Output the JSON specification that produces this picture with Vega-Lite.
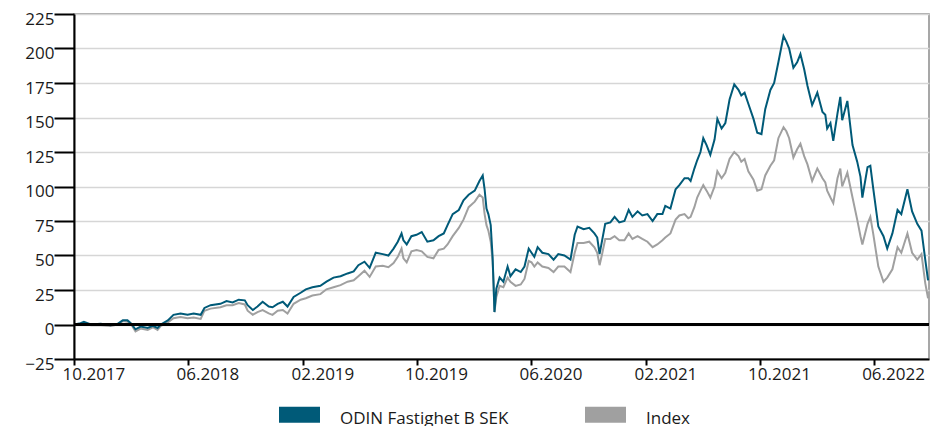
{
  "$schema": "https://vega.github.io/schema/vega-lite/v6.json",
  "width": 855,
  "height": 345,
  "autosize": "none",
  "padding": {"left": 74, "top": 14, "right": 1, "bottom": 67},
  "config": {
    "font": "Open Sans",
    "view": {"stroke": "#8a8a8a", "strokeWidth": 1.5},
    "axis": {"labelFont": "Open Sans", "labelFontSize": 17, "labelColor": "#1a1a1a"},
    "axisY": {
      "title": null,
      "grid": true, "gridColor": "#d6d6d6", "gridWidth": 1.5,
      "domainColor": "#000", "domainWidth": 2,
      "tickColor": "#000", "tickWidth": 2, "tickSize": 20,
      "labelPadding": 0, "labelOffset": 5, "labelOverlap": false, "labelFlush": false
    }
  },
  "data": {"values": [
    {"d":"2017-10-02","odin":0,"idx":0},
    {"d":"2017-10-15","odin":1,"idx":0.5},
    {"d":"2017-10-22","odin":2,"idx":1},
    {"d":"2017-11-06","odin":0,"idx":-0.5},
    {"d":"2017-11-27","odin":0.5,"idx":-0.5},
    {"d":"2017-12-18","odin":-0.5,"idx":-1},
    {"d":"2018-01-02","odin":0.5,"idx":0},
    {"d":"2018-01-13","odin":3,"idx":2.5},
    {"d":"2018-01-23","odin":3,"idx":2},
    {"d":"2018-01-30","odin":1,"idx":0.5},
    {"d":"2018-02-09","odin":-3.5,"idx":-5},
    {"d":"2018-02-20","odin":-1.5,"idx":-3},
    {"d":"2018-03-07","odin":-2.5,"idx":-4},
    {"d":"2018-03-18","odin":-1,"idx":-2},
    {"d":"2018-03-28","odin":-2.5,"idx":-4},
    {"d":"2018-04-04","odin":0,"idx":-1},
    {"d":"2018-04-19","odin":3,"idx":1.5},
    {"d":"2018-05-01","odin":7,"idx":4.5},
    {"d":"2018-05-16","odin":8,"idx":5.5},
    {"d":"2018-05-31","odin":7,"idx":4.5},
    {"d":"2018-06-13","odin":8,"idx":5},
    {"d":"2018-06-28","odin":7,"idx":4},
    {"d":"2018-07-06","odin":12,"idx":10},
    {"d":"2018-07-19","odin":14,"idx":11.5},
    {"d":"2018-08-09","odin":15,"idx":12.5},
    {"d":"2018-08-22","odin":17,"idx":14},
    {"d":"2018-09-04","odin":16,"idx":14},
    {"d":"2018-09-17","odin":18,"idx":15.5},
    {"d":"2018-09-30","odin":17.5,"idx":14.5},
    {"d":"2018-10-06","odin":14,"idx":10},
    {"d":"2018-10-17","odin":10.5,"idx":7},
    {"d":"2018-10-27","odin":13,"idx":9},
    {"d":"2018-11-07","odin":16.5,"idx":10.5},
    {"d":"2018-11-20","odin":13,"idx":8},
    {"d":"2018-11-28","odin":12.5,"idx":7},
    {"d":"2018-12-09","odin":15,"idx":10},
    {"d":"2018-12-20","odin":16.5,"idx":10.5},
    {"d":"2018-12-30","odin":13,"idx":8},
    {"d":"2019-01-12","odin":20,"idx":15},
    {"d":"2019-01-27","odin":23,"idx":18},
    {"d":"2019-02-07","odin":25.5,"idx":19},
    {"d":"2019-02-21","odin":27,"idx":21},
    {"d":"2019-03-10","odin":28,"idx":22},
    {"d":"2019-03-23","odin":31,"idx":25.5},
    {"d":"2019-04-07","odin":34,"idx":27},
    {"d":"2019-04-22","odin":35,"idx":28.5},
    {"d":"2019-05-07","odin":37,"idx":31},
    {"d":"2019-05-20","odin":38.5,"idx":32},
    {"d":"2019-05-30","odin":43,"idx":35},
    {"d":"2019-06-12","odin":45.5,"idx":39},
    {"d":"2019-06-23","odin":41,"idx":34.5},
    {"d":"2019-07-06","odin":52,"idx":42},
    {"d":"2019-07-21","odin":51,"idx":42.5},
    {"d":"2019-08-02","odin":50,"idx":41.5},
    {"d":"2019-08-13","odin":55,"idx":44.5},
    {"d":"2019-08-22","odin":60,"idx":49},
    {"d":"2019-08-30","odin":66,"idx":55},
    {"d":"2019-09-03","odin":61,"idx":48},
    {"d":"2019-09-10","odin":58,"idx":45},
    {"d":"2019-09-20","odin":64,"idx":53},
    {"d":"2019-10-01","odin":65,"idx":54},
    {"d":"2019-10-12","odin":67,"idx":53},
    {"d":"2019-10-24","odin":60,"idx":49},
    {"d":"2019-11-06","odin":61,"idx":48},
    {"d":"2019-11-17","odin":64,"idx":54},
    {"d":"2019-11-28","odin":66,"idx":55},
    {"d":"2019-12-06","odin":72,"idx":58},
    {"d":"2019-12-17","odin":80,"idx":64},
    {"d":"2019-12-30","odin":83,"idx":70},
    {"d":"2020-01-09","odin":90,"idx":76},
    {"d":"2020-01-20","odin":94,"idx":85},
    {"d":"2020-02-02","odin":97,"idx":89},
    {"d":"2020-02-12","odin":104,"idx":94},
    {"d":"2020-02-19","odin":108,"idx":92},
    {"d":"2020-02-23","odin":98,"idx":80},
    {"d":"2020-02-27","odin":84,"idx":72},
    {"d":"2020-03-02","odin":80,"idx":68},
    {"d":"2020-03-07","odin":72,"idx":60},
    {"d":"2020-03-11","odin":49,"idx":46},
    {"d":"2020-03-13","odin":30,"idx":30},
    {"d":"2020-03-15","odin":9,"idx":9},
    {"d":"2020-03-19","odin":26,"idx":20},
    {"d":"2020-03-26","odin":34,"idx":28},
    {"d":"2020-04-03","odin":31,"idx":27},
    {"d":"2020-04-12","odin":42,"idx":34},
    {"d":"2020-04-18","odin":35,"idx":31},
    {"d":"2020-04-29","odin":40,"idx":28},
    {"d":"2020-05-10","odin":38,"idx":29},
    {"d":"2020-05-18","odin":42,"idx":33},
    {"d":"2020-05-27","odin":55,"idx":46},
    {"d":"2020-06-02","odin":52,"idx":45},
    {"d":"2020-06-08","odin":49,"idx":42},
    {"d":"2020-06-15","odin":56,"idx":45},
    {"d":"2020-06-25","odin":52,"idx":42},
    {"d":"2020-07-08","odin":51,"idx":41},
    {"d":"2020-07-19","odin":47,"idx":38},
    {"d":"2020-07-29","odin":51,"idx":42},
    {"d":"2020-08-11","odin":50,"idx":42},
    {"d":"2020-08-24","odin":47,"idx":38},
    {"d":"2020-09-02","odin":65,"idx":52},
    {"d":"2020-09-08","odin":71,"idx":59},
    {"d":"2020-09-21","odin":69,"idx":59},
    {"d":"2020-10-03","odin":70,"idx":60},
    {"d":"2020-10-14","odin":66,"idx":56},
    {"d":"2020-10-20","odin":63,"idx":52},
    {"d":"2020-10-25","odin":51,"idx":43},
    {"d":"2020-10-31","odin":62,"idx":52},
    {"d":"2020-11-06","odin":73,"idx":62},
    {"d":"2020-11-17","odin":74,"idx":62},
    {"d":"2020-11-26","odin":78,"idx":64},
    {"d":"2020-12-06","odin":74,"idx":61},
    {"d":"2020-12-17","odin":75,"idx":61},
    {"d":"2020-12-26","odin":83,"idx":66},
    {"d":"2021-01-03","odin":78,"idx":62},
    {"d":"2021-01-14","odin":82,"idx":64},
    {"d":"2021-01-24","odin":79,"idx":62},
    {"d":"2021-02-04","odin":80,"idx":60},
    {"d":"2021-02-15","odin":75,"idx":56},
    {"d":"2021-02-25","odin":80,"idx":58},
    {"d":"2021-03-08","odin":80,"idx":61},
    {"d":"2021-03-14","odin":86,"idx":63},
    {"d":"2021-03-25","odin":84,"idx":66},
    {"d":"2021-04-05","odin":98,"idx":76},
    {"d":"2021-04-13","odin":101,"idx":79},
    {"d":"2021-04-24","odin":106,"idx":80},
    {"d":"2021-05-02","odin":106,"idx":77},
    {"d":"2021-05-07","odin":104,"idx":78},
    {"d":"2021-05-15","odin":113,"idx":85},
    {"d":"2021-05-21","odin":119,"idx":92},
    {"d":"2021-05-28","odin":125,"idx":97},
    {"d":"2021-06-03","odin":135,"idx":101},
    {"d":"2021-06-10","odin":130,"idx":97},
    {"d":"2021-06-18","odin":123,"idx":92},
    {"d":"2021-06-27","odin":134,"idx":100},
    {"d":"2021-07-03","odin":149,"idx":111},
    {"d":"2021-07-12","odin":142,"idx":106},
    {"d":"2021-07-20","odin":146,"idx":110},
    {"d":"2021-07-29","odin":163,"idx":120},
    {"d":"2021-08-08","odin":174,"idx":125},
    {"d":"2021-08-17","odin":170,"idx":122},
    {"d":"2021-08-23","odin":166,"idx":118},
    {"d":"2021-08-30","odin":168,"idx":120},
    {"d":"2021-09-07","odin":160,"idx":111},
    {"d":"2021-09-18","odin":149,"idx":105},
    {"d":"2021-09-26","odin":139,"idx":97},
    {"d":"2021-10-05","odin":138,"idx":98},
    {"d":"2021-10-13","odin":156,"idx":108},
    {"d":"2021-10-24","odin":170,"idx":115},
    {"d":"2021-11-01","odin":175,"idx":119},
    {"d":"2021-11-10","odin":190,"idx":135},
    {"d":"2021-11-21","odin":209,"idx":143},
    {"d":"2021-11-27","odin":205,"idx":140},
    {"d":"2021-12-03","odin":200,"idx":135},
    {"d":"2021-12-12","odin":186,"idx":121},
    {"d":"2021-12-20","odin":190,"idx":127},
    {"d":"2021-12-27","odin":196,"idx":131},
    {"d":"2022-01-04","odin":185,"idx":122},
    {"d":"2022-01-11","odin":173,"idx":116},
    {"d":"2022-01-21","odin":159,"idx":104},
    {"d":"2022-02-01","odin":168,"idx":113},
    {"d":"2022-02-12","odin":154,"idx":106},
    {"d":"2022-02-18","odin":152,"idx":103},
    {"d":"2022-02-22","odin":142,"idx":97},
    {"d":"2022-03-01","odin":146,"idx":92},
    {"d":"2022-03-07","odin":133,"idx":88},
    {"d":"2022-03-16","odin":153,"idx":106},
    {"d":"2022-03-22","odin":165,"idx":113},
    {"d":"2022-03-26","odin":148,"idx":100},
    {"d":"2022-04-06","odin":162,"idx":110},
    {"d":"2022-04-17","odin":130,"idx":92},
    {"d":"2022-04-27","odin":118,"idx":76},
    {"d":"2022-05-04","odin":107,"idx":64},
    {"d":"2022-05-08","odin":92,"idx":58},
    {"d":"2022-05-19","odin":114,"idx":73},
    {"d":"2022-05-25","odin":115,"idx":78},
    {"d":"2022-05-31","odin":99,"idx":66},
    {"d":"2022-06-11","odin":71,"idx":42},
    {"d":"2022-06-22","odin":64,"idx":31},
    {"d":"2022-06-30","odin":55,"idx":34},
    {"d":"2022-07-11","odin":66,"idx":40},
    {"d":"2022-07-22","odin":83,"idx":56},
    {"d":"2022-07-30","odin":80,"idx":52},
    {"d":"2022-08-12","odin":98,"idx":66},
    {"d":"2022-08-22","odin":82,"idx":52},
    {"d":"2022-09-02","odin":73,"idx":47},
    {"d":"2022-09-11","odin":68,"idx":51},
    {"d":"2022-09-19","odin":47,"idx":30},
    {"d":"2022-09-25","odin":32,"idx":19}
  ]},
  "layer": [
    {
      "mark": {"type": "line", "strokeWidth": 2},
      "encoding": {
        "x": {
          "field": "d", "type": "temporal",
          "scale": {"domain": [{"year": 2017, "month": 10, "date": 1}, {"year": 2022, "month": 9, "date": 27}]},
          "axis": {
            "title": null, "grid": false, "format": "%m.%Y",
            "values": [
              {"year": 2017, "month": 10, "date": 1},
              {"year": 2018, "month": 6, "date": 1},
              {"year": 2019, "month": 2, "date": 1},
              {"year": 2019, "month": 10, "date": 1},
              {"year": 2020, "month": 6, "date": 1},
              {"year": 2021, "month": 2, "date": 1},
              {"year": 2021, "month": 10, "date": 1},
              {"year": 2022, "month": 6, "date": 1}
            ],
            "domainColor": "#000", "domainWidth": 2,
            "tickColor": "#000", "tickWidth": 2, "tickSize": 6,
            "labelAlign": "left", "labelOffset": -12, "labelPadding": 1,
            "labelFlush": false, "labelOverlap": false, "labelBound": false
          }
        },
        "y": {
          "field": "idx", "type": "quantitative",
          "scale": {"domain": [-25, 225], "nice": false, "zero": false},
          "axis": {"title": null, "values": [-25, 0, 25, 50, 75, 100, 125, 150, 175, 200, 225], "labelOverlap": false}
        },
        "color": {
          "datum": "Index", "type": "nominal",
          "scale": {"domain": ["ODIN Fastighet B SEK", "Index"], "range": ["#005a78", "#a0a0a0"]},
          "legend": {
            "title": null, "orient": "none", "direction": "horizontal",
            "legendX": 205, "legendY": 380,
            "symbolType": "M-1,-0.39H1V0.39H-1Z", "symbolSize": 1681,
            "symbolStrokeWidth": 0,
            "labelFont": "Open Sans", "labelFontSize": 17, "labelColor": "#1a1a1a",
            "labelOffset": 20, "columnPadding": 76, "padding": 0, "labelLimit": 400,
            "encode": {
              "symbols": {"update": {"fill": {"scale": "color", "field": "value"}, "fillOpacity": {"value": 1}, "stroke": {"value": "transparent"}}},
              "labels": {"update": {"dy": {"value": 4}}}
            }
          }
        }
      }
    },
    {
      "mark": {"type": "line", "strokeWidth": 2},
      "encoding": {
        "x": {"field": "d", "type": "temporal"},
        "y": {
          "field": "odin", "type": "quantitative",
          "axis": {"title": null, "values": [-25, 0, 25, 50, 75, 100, 125, 150, 175, 200, 225], "labelOverlap": false}
        },
        "color": {"datum": "ODIN Fastighet B SEK", "type": "nominal"}
      }
    },
    {
      "mark": {"type": "rule", "color": "#000", "strokeWidth": 2},
      "encoding": {
        "y": {
          "datum": 0, "type": "quantitative",
          "axis": {"title": null, "values": [-25, 0, 25, 50, 75, 100, 125, 150, 175, 200, 225], "labelOverlap": false}
        }
      }
    }
  ]
}
